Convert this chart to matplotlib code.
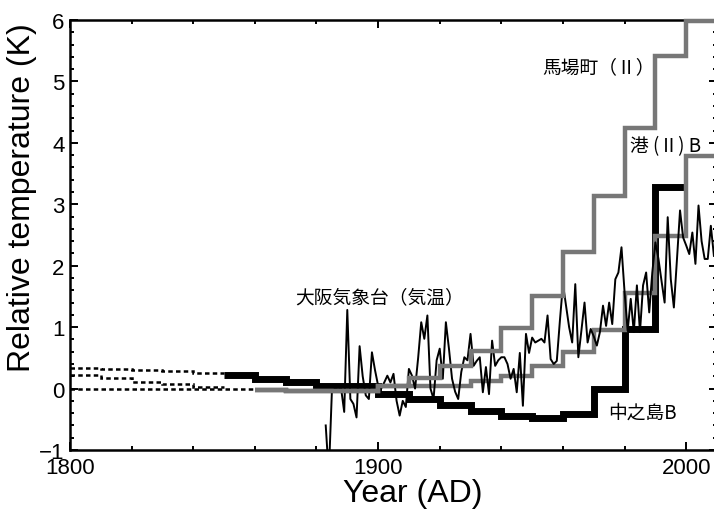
import numpy as np
import matplotlib.pyplot as plt
from matplotlib.ticker import MultipleLocator

plt.rcParams["font.family"] = ["Liberation Sans", "Noto Sans CJK JP"]
CJK = ["Noto Sans CJK JP", "Liberation Sans"]

# 大阪気象台（気温）: annual values, 1883-2009
osaka_start = 1883
osaka_temp = [
    -0.60, -1.40, -0.05, 0.00, 0.02, 0.00, -0.38,
    1.28, -0.17, -0.25, -0.47, 0.69, 0.20, -0.11, -0.17, 0.59, 0.30,
    0.05, 0.00, 0.10, 0.21, 0.10, 0.24, -0.20, -0.44, -0.20, -0.30,
    0.32, 0.21, 0.00, 0.50, 1.08, 0.81, 1.19, 0.00, -0.17, 0.46,
    0.65, 0.16, 1.08, 0.65, 0.16, -0.05, -0.17, 0.27, 0.51, 0.46,
    0.89, 0.37, 0.45, 0.51, -0.06, 0.35, -0.09, 0.78, 0.37, 0.46,
    0.51, 0.51, 0.40, 0.16, 0.32, -0.06, 0.58, -0.28, 0.89, 0.58,
    0.83, 0.75, 0.78, 0.81, 0.75, 1.19, 0.48, 0.40, 0.45, 1.10,
    1.70, 1.35, 1.00, 0.75, 1.70, 0.51, 0.95, 1.40, 0.75, 0.97,
    0.85, 0.70, 0.92, 1.35, 1.02, 1.40, 1.05, 1.78, 1.89, 2.30,
    1.57, 0.94, 1.46, 0.92, 1.68, 0.92, 1.68, 1.89, 1.24, 1.89,
    2.38, 2.11, 1.75, 1.40, 2.79, 1.78, 1.32, 2.10, 2.90, 2.46,
    2.33, 2.19, 2.54, 2.03, 2.98, 2.40, 2.11, 2.11, 2.65, 2.16,
]
osaka_years = np.arange(osaka_start, osaka_start + len(osaka_temp))

# 馬場町（Ⅱ）
baba_edges = [1860, 1870, 1900, 1910, 1920, 1930, 1940, 1950, 1960, 1970, 1980, 1990, 2000, 2010]
baba_vals = [-0.02, -0.04, 0.05, 0.17, 0.36, 0.61, 0.99, 1.51, 2.22, 3.13, 4.25, 5.42, 5.98]

# 港（Ⅱ）B
minato_edges = [1860, 1870, 1900, 1930, 1940, 1950, 1960, 1970, 1980, 1990, 2000, 2010]
minato_vals = [-0.02, -0.04, 0.04, 0.12, 0.21, 0.36, 0.60, 0.96, 1.55, 2.49, 3.79]

# 中之島B
naka_edges = [1850, 1860, 1870, 1880, 1900, 1910, 1920, 1930, 1940, 1950, 1960, 1970, 1980, 1990, 2000]
naka_vals = [0.22, 0.16, 0.11, 0.05, -0.09, -0.17, -0.26, -0.36, -0.44, -0.48, -0.42, 0.00, 0.97, 3.28]

# dotted extrapolations back to 1800
ext1_edges = [1800, 1810, 1820, 1830, 1840, 1850]
ext1_vals = [0.33, 0.32, 0.30, 0.28, 0.26]
ext2_edges = [1800, 1810, 1820, 1830, 1840, 1850]
ext2_vals = [0.22, 0.17, 0.11, 0.07, 0.02]
ext3_edges = [1800, 1860]
ext3_vals = [0.00]

grey = "#777777"

fig = plt.figure(figsize=(7.14, 5.10), dpi=100)
ax = fig.add_axes([70 / 714, 59 / 510, 647 / 714, 430 / 510])

dot = (0, (1.8, 1.3))
for e, v in [(ext1_edges, ext1_vals), (ext2_edges, ext2_vals), (ext3_edges, ext3_vals)]:
    ax.stairs(v, e, baseline=None, color="black", linewidth=1.8, linestyle=dot, zorder=2)

ax.stairs(naka_vals, naka_edges, baseline=None, color="black", linewidth=5, zorder=2.1)
ax.stairs(minato_vals, minato_edges, baseline=None, color=grey, linewidth=3.2, zorder=2.2, clip_on=False)
ax.stairs(baba_vals, baba_edges, baseline=None, color=grey, linewidth=3.2, zorder=3, clip_on=False)
ax.plot(osaka_years, osaka_temp, color="black", linewidth=1.4, zorder=2.4)

ax.text(1953.2, 5.24, "馬場町（Ⅱ）", family=CJK, fontsize=13.5, ha="left", va="center")
ax.text(1981.6, 3.95, "港 (Ⅱ) B", family=CJK, fontsize=13.5, ha="left", va="center")
ax.text(1873.1, 1.49, "大阪気象台（気温）", family=CJK, fontsize=13.5, ha="left", va="center")
ax.text(1974.7, -0.38, "中之島B", family=CJK, fontsize=13.5, ha="left", va="center")

ax.set_xlim(1800, 2010)
ax.set_ylim(-1, 6)
ax.xaxis.set_major_locator(MultipleLocator(100))
ax.xaxis.set_minor_locator(MultipleLocator(20))
ax.yaxis.set_major_locator(MultipleLocator(1))
ax.yaxis.set_minor_locator(MultipleLocator(0.2))
ax.tick_params(which="both", direction="in", top=True, right=True, width=1.4, labelsize=16)
ax.tick_params(which="major", length=6)
ax.tick_params(which="minor", length=3)
ax.tick_params(axis="x", pad=5)
ax.tick_params(axis="y", pad=4)
for s in ax.spines.values():
    s.set_linewidth(1.8)

ax.set_xlabel("Year (AD)", fontsize=23)
ax.set_ylabel("Relative temperature (K)", fontsize=23)
ax.xaxis.set_label_coords((413 - 70) / 647, (451 - 494) / 430)
ax.xaxis.label.set_verticalalignment("center")
ax.yaxis.set_label_coords((22 - 70) / 647, (451 - 198) / 430)
ax.yaxis.label.set_verticalalignment("center")

fig.savefig("out.png", dpi=100)
